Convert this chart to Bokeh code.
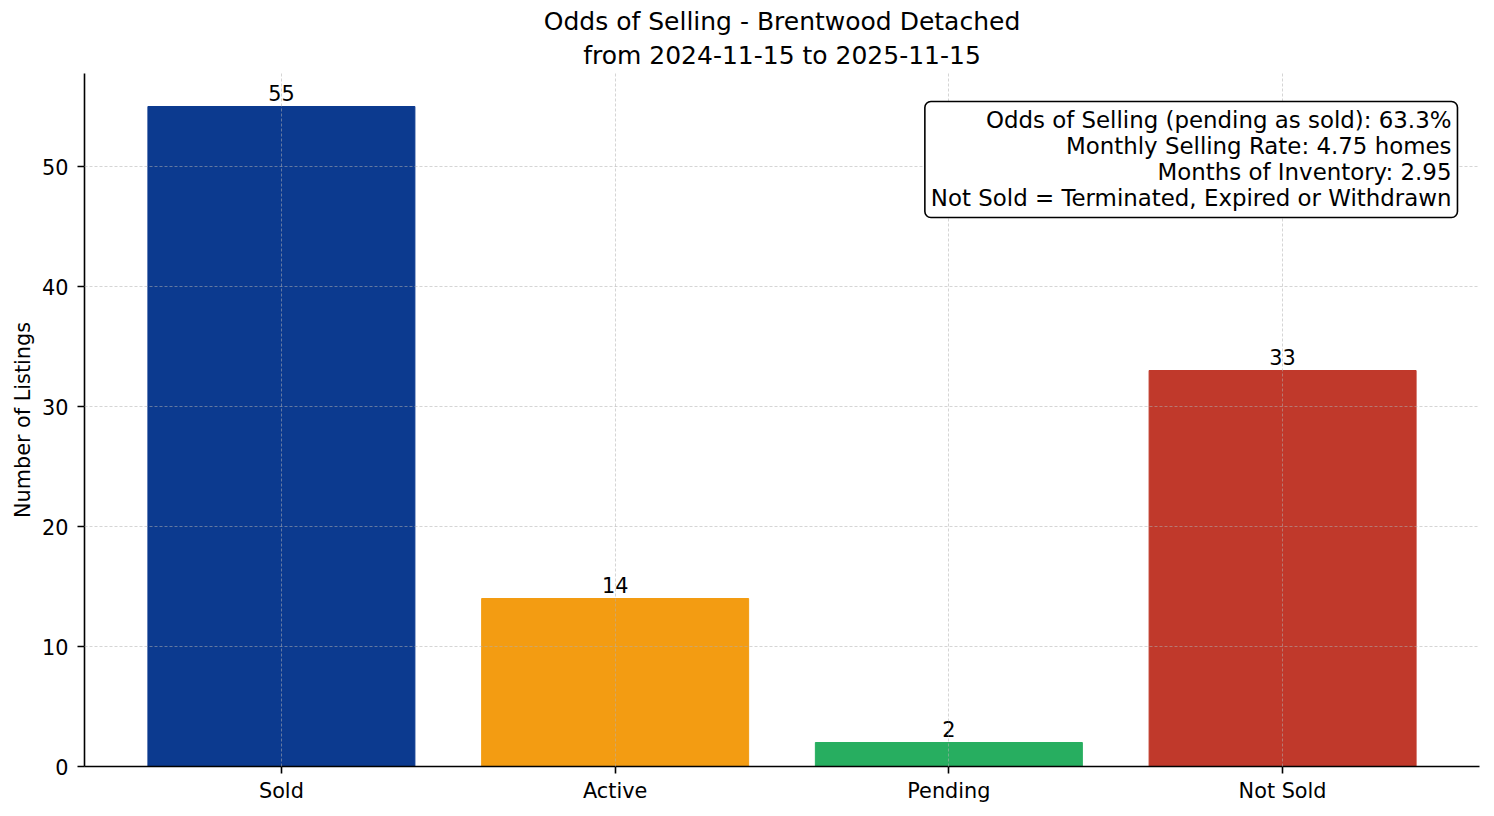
from bokeh.plotting import figure
from bokeh.models import ColumnDataSource, FixedTicker, Label, Title, Range1d
from bokeh.embed import file_html
from bokeh.resources import INLINE
from bokeh.core.properties import value

categories = ["Sold", "Active", "Pending", "Not Sold"]
counts = [55, 14, 2, 33]
colors = ["#0c3a8f", "#f39c12", "#27ae60", "#c0392b"]
y_ticks = [0, 10, 20, 30, 40, 50]
title_line1 = "Odds of Selling - Brentwood Detached"
title_line2 = "from 2024-11-15 to 2025-11-15"
info_lines = [
    "Odds of Selling (pending as sold): 63.3%",
    "Monthly Selling Rate: 4.75 homes",
    "Months of Inventory: 2.95",
    "Not Sold = Terminated, Expired or Withdrawn",
]

FONT = "DejaVu Sans"
xs = list(range(len(categories)))
src = ColumnDataSource(dict(x=xs, top=counts, color=colors,
                            label=[str(c) for c in counts]))

p = figure(width=1494, height=816, output_backend="svg", toolbar_location=None,
           title_location=None,
           x_range=Range1d(-0.59, 3.59), y_range=Range1d(0, 57.75),
           min_border_left=84, min_border_right=15, min_border_top=73,
           min_border_bottom=50)
p.outline_line_color = None
p.background_fill_color = "white"
p.border_fill_color = "white"

p.vbar(x="x", top="top", width=0.8, color="color", source=src)
p.text(x="x", y="top", text="label", source=src, text_align="center",
       text_baseline="bottom", text_font=value(FONT), text_font_size="20.8px",
       text_color="black", y_offset=-6)

# first added sits nearest the frame
p.add_layout(Title(text=title_line2, align="center", text_font=FONT,
                   text_font_size="25px", text_font_style="normal",
                   text_color="black", text_line_height=1.0,
                   standoff=7), "above")
p.add_layout(Title(text=title_line1, align="center", text_font=FONT,
                   text_font_size="25px", text_font_style="normal",
                   text_color="black", text_line_height=1.0,
                   standoff=0), "above")

for ax in (p.xaxis[0], p.yaxis[0]):
    ax.axis_line_width = 1.6
    ax.axis_line_color = "black"
    ax.major_tick_line_width = 1.6
    ax.major_tick_line_color = "black"
    ax.major_tick_out = 7
    ax.major_tick_in = 0
    ax.minor_tick_out = 0
    ax.minor_tick_in = 0
    ax.major_label_text_font = FONT
    ax.major_label_text_font_size = "20.8px"
    ax.major_label_text_color = "black"

p.xaxis.ticker = FixedTicker(ticks=xs)
p.xaxis.major_label_overrides = {i: c for i, c in zip(xs, categories)}
p.xaxis.major_label_standoff = 5
p.yaxis.ticker = FixedTicker(ticks=y_ticks)
p.yaxis.major_label_standoff = 9
p.yaxis.axis_label = "Number of Listings"
p.yaxis.axis_label_text_font = FONT
p.yaxis.axis_label_text_font_size = "20.8px"
p.yaxis.axis_label_text_font_style = "normal"
p.yaxis.axis_label_text_color = "black"
p.yaxis.axis_label_standoff = 4

for g in (p.xgrid[0], p.ygrid[0]):
    g.grid_line_color = "#b0b0b0"
    g.grid_line_alpha = 0.6
    g.grid_line_dash = "3 2"
    g.grid_line_width = 0.9
    g.level = "guide"
p.xgrid.ticker = FixedTicker(ticks=xs)
p.ygrid.ticker = FixedTicker(ticks=y_ticks)

info = Label(x=3.524, y=55.42, text="\n".join(info_lines),
             text_align="right", text_baseline="top",
             text_font=FONT, text_font_size="22.9px", text_color="black",
             text_line_height=1.0,
             border_line_color="black", border_line_width=1.6,
             border_radius=6, background_fill_color="white",
             padding=6)
p.add_layout(info)

open("out.html", "w").write(file_html(p, INLINE))
